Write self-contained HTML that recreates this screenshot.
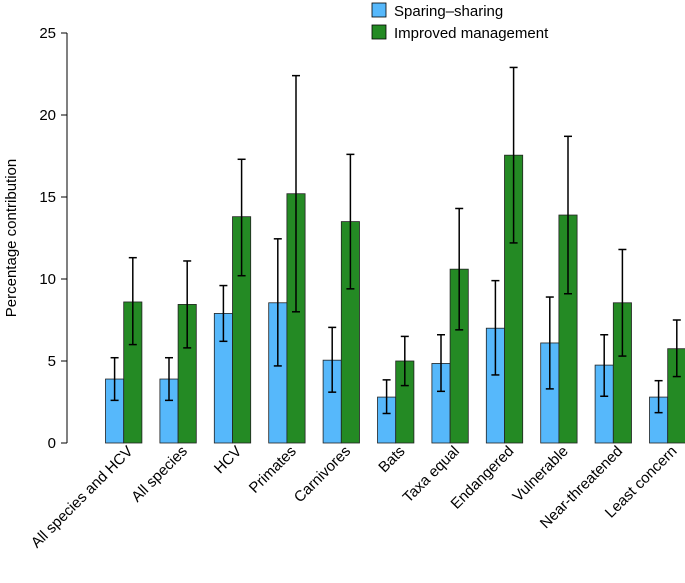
<!DOCTYPE html>
<html><head><meta charset="utf-8">
<style>
body{margin:0;background:#fff;}
svg{display:block;font-family:"Liberation Sans",Arial,sans-serif;}
</style></head>
<body>
<svg id="chart" width="685" height="583"></svg>
<script>
const categories=["All species and HCV","All species","HCV","Primates","Carnivores","Bats","Taxa equal","Endangered","Vulnerable","Near-threatened","Least concern"];
const sparingValues=[3.9,3.9,7.9,8.55,5.05,2.8,4.85,7.0,6.1,4.75,2.8];
const sparingLow=[2.6,2.6,6.2,4.7,3.1,1.8,3.15,4.15,3.3,2.85,1.85];
const sparingHigh=[5.2,5.2,9.6,12.45,7.05,3.85,6.6,9.9,8.9,6.6,3.8];
const improvedValues=[8.6,8.45,13.8,15.2,13.5,5.0,10.6,17.55,13.9,8.55,5.75];
const improvedLow=[6.0,5.8,10.2,8.0,9.4,3.5,6.9,12.2,9.1,5.3,4.05];
const improvedHigh=[11.3,11.1,17.3,22.4,17.6,6.5,14.3,22.9,18.7,11.8,7.5];
const yTicks=[0,5,10,15,20,25];

const NS="http://www.w3.org/2000/svg";
const svg=document.getElementById('chart');
const y0=443,yScale=16.4,gx0=105.5,gStep=54.4,bw=18.2;
const y=v=>y0-v*yScale;
const gx=i=>gx0+i*gStep;
function mk(tag,attrs,parent){const e=document.createElementNS(NS,tag);for(const k in attrs)e.setAttribute(k,attrs[k]);(parent||svg).appendChild(e);return e;}

const ax=mk('g',{});


mk('line',{x1:67,x2:67,y1:y(0),y2:y(25),stroke:'#000','stroke-width':1},ax);
yTicks.forEach(t=>{
  mk('line',{x1:61,x2:67,y1:y(t),y2:y(t),stroke:'#000'},ax);
  const tx=mk('text',{x:56,y:y(t)+5,'text-anchor':'end','font-size':15},ax);
  tx.textContent=t;
});
const yt=mk('text',{x:0,y:0,'text-anchor':'middle','font-size':15,transform:'translate(16,238) rotate(-90)'});


yt.textContent='Percentage contribution';

function errbar(cx,lo,hi,g){
  mk('line',{x1:cx,x2:cx,y1:y(lo),y2:y(hi),stroke:'#000','stroke-width':1.5},g);
  mk('line',{x1:cx-4,x2:cx+4,y1:y(lo),y2:y(lo),stroke:'#000','stroke-width':1.5},g);
  mk('line',{x1:cx-4,x2:cx+4,y1:y(hi),y2:y(hi),stroke:'#000','stroke-width':1.5},g);
}
categories.forEach((c,i)=>{
  const g=mk('g',{});
  
  
  const x=gx(i);
  const b1=mk('rect',{x:x,y:y(sparingValues[i]),width:bw,height:sparingValues[i]*yScale,fill:'#56b8fb',stroke:'#222','stroke-width':0.8},g);
  
  
  const b2=mk('rect',{x:x+bw,y:y(improvedValues[i]),width:bw,height:improvedValues[i]*yScale,fill:'#248a24',stroke:'#222','stroke-width':0.8},g);
  
  
  errbar(x+bw/2,sparingLow[i],sparingHigh[i],g);
  errbar(x+bw*1.5,improvedLow[i],improvedHigh[i],g);
  const lx=x+bw+10,ly=452;
  const t=mk('text',{x:lx,y:ly,'text-anchor':'end','font-size':15,transform:`rotate(-45 ${lx} ${ly})`},g);
  
  
  t.textContent=c;
});

const lg=mk('g',{});


[['#56b8fb','Sparing–sharing',3],['#248a24','Improved management',25]].forEach(([col,lab,yy])=>{
  mk('rect',{x:372,y:yy,width:14,height:14,fill:col,stroke:'#000','stroke-width':0.8},lg);
  const t=mk('text',{x:394,y:yy+13,'font-size':15},lg);
  t.textContent=lab;
});
</script>
</body></html>
